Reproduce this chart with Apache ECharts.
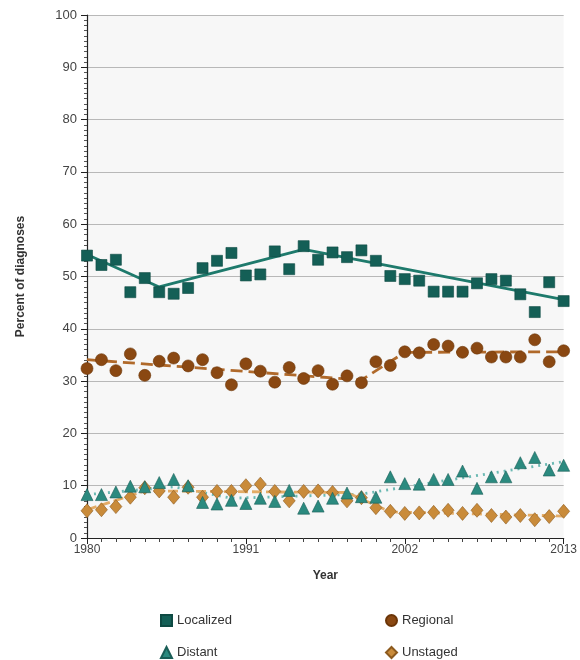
<!DOCTYPE html>
<html>
<head>
<meta charset="utf-8">
<script src="https://cdn.jsdelivr.net/npm/echarts@6/dist/echarts.min.js"></script>
<style>
  html, body { margin: 0; padding: 0; background: #ffffff; }
  #chart { width: 580px; height: 660px; }
</style>
</head>
<body>
<div id="chart"></div>
<script>
// Diagnosis years
const years = [1980,1981,1982,1983,1984,1985,1986,1987,1988,1989,1990,1991,1992,1993,1994,1995,1996,
  1997,1998,1999,2000,2001,2002,2003,2004,2005,2006,2007,2008,2009,2010,2011,2012,2013];

// Observed percent of diagnoses by stage
const localized = [54.0,52.2,53.2,47.0,49.7,47.0,46.7,47.8,51.6,53.0,54.5,50.2,50.4,54.8,51.4,55.8,53.2,
  54.6,53.7,55.0,53.0,50.1,49.5,49.2,47.1,47.1,47.1,48.7,49.5,49.2,46.6,43.2,48.9,45.3];
const regional = [32.4,34.1,32.0,35.2,31.1,33.8,34.4,32.9,34.1,31.6,29.3,33.3,31.9,29.8,32.6,30.5,32.0,
  29.4,31.0,29.7,33.7,33.0,35.6,35.4,37.0,36.7,35.5,36.3,34.6,34.6,34.6,37.9,33.7,35.8];
const distant = [8.3,8.3,8.8,9.9,9.8,10.6,11.2,10.0,6.8,6.5,7.2,6.6,7.6,7.0,9.1,5.7,6.1,
  7.6,8.6,7.9,7.8,11.7,10.4,10.3,11.2,11.2,12.8,9.5,11.7,11.7,14.4,15.4,13.0,13.9];
const unstaged = [5.2,5.4,6.0,7.8,9.6,9.0,7.8,9.7,7.8,8.9,8.9,10.0,10.3,8.9,7.1,8.9,9.0,
  8.7,7.1,7.7,5.8,5.1,4.7,4.8,4.9,5.3,4.7,5.3,4.3,4.0,4.3,3.5,4.1,5.1];

// Fitted joinpoint trends: [year, percent]
const localizedTrend = [[1980,54.2],[1985,48.0],[1995,55.2],[2013,45.6]];
const regionalTrend = [[1980,34.1],[1999,30.2],[2002,35.5],[2013,35.6]];
const distantTrend = [[1980,8.3],[1986,9.8],[1990,7.6],[1999,8.4],[2013,14.6]];
const unstagedTrend = [[1980,5.4],[1984,9.0],[1998,8.7],[2001,5.0],[2013,4.2]];

const yTicks = [0,10,20,30,40,50,60,70,80,90,100];
const xTicks = [1980,1991,2002,2013];

const COL = {
  loc: '#145f56', locLine: '#1e7a6c',
  reg: '#8a4812', regLine: '#b0692a',
  dis: '#2b8a7f', disLine: '#6bb9b3',
  uns: '#c98b3a', unsLine: '#e3ac66'
};

const pairs = (vals) => years.map((y, i) => [y, vals[i]]);

const chart = echarts.init(document.getElementById('chart'), null, { renderer: 'canvas' });

const font = 'Liberation Sans, Arial, sans-serif';

// One legend block per entry, laid out in two columns
const legendItem = (name, icon, left, top) => ({
  left: left, top: top, orient: 'horizontal',
  itemWidth: 11, itemHeight: 11, itemGap: 4,
  textStyle: { fontFamily: font, fontSize: 13, color: '#333' },
  data: [{ name: name, icon: icon }]
});

chart.setOption({
  animation: false,
  backgroundColor: '#ffffff',
  grid: {
    left: 87, right: 15, top: 15, bottom: 122,
    show: true, backgroundColor: '#f7f7f7', borderWidth: 0
  },
  xAxis: {
    type: 'value', min: 1980, max: 2013, interval: 11,
    name: 'Year', nameLocation: 'middle', nameGap: 32,
    nameTextStyle: { fontFamily: font, fontWeight: 'bold', fontSize: 12, color: '#333' },
    axisLine: { show: true, lineStyle: { color: '#222', width: 1.2 } },
    axisTick: { show: true, length: 6, lineStyle: { color: '#222' } },
    minorTick: { show: true, splitNumber: 11, length: 4, lineStyle: { color: '#444' } },
    axisLabel: {
      fontFamily: font, fontSize: 12, color: '#444', margin: 6,
      formatter: (v) => xTicks.includes(v) ? String(v) : ''
    },
    splitLine: { show: false }
  },
  yAxis: {
    type: 'value', min: 0, max: 100, interval: 10,
    name: 'Percent of diagnoses', nameLocation: 'middle', nameGap: 60, nameRotate: 90,
    nameTextStyle: { fontFamily: font, fontWeight: 'bold', fontSize: 12, color: '#333' },
    axisLine: { show: true, lineStyle: { color: '#222', width: 1.2 } },
    axisTick: { show: true, length: 6, lineStyle: { color: '#222' } },
    minorTick: { show: true, splitNumber: 10, length: 3, lineStyle: { color: '#555' } },
    axisLabel: {
      fontFamily: font, fontSize: 13, color: '#444', margin: 10,
      formatter: (v) => yTicks.includes(v) ? String(v) : ''
    },
    splitLine: { show: true, lineStyle: { color: '#b8b8b8', width: 1 } }
  },
  legend: [
    legendItem('Localized', 'rect', 155, 609),
    legendItem('Distant', 'triangle', 155, 641),
    legendItem('Regional', 'circle', 380, 609),
    legendItem('Unstaged', 'diamond', 380, 641)
  ],
  series: [
    {
      name: 'Localized trend', type: 'line', data: localizedTrend, symbol: 'none', z: 2,
      lineStyle: { color: COL.locLine, width: 2.8, type: 'solid' }
    },
    {
      name: 'Regional trend', type: 'line', data: regionalTrend, symbol: 'none', z: 2,
      lineStyle: { color: COL.regLine, width: 2.8, type: [12, 6] }
    },
    {
      name: 'Distant trend', type: 'line', data: distantTrend, symbol: 'none', z: 2,
      lineStyle: { color: COL.disLine, width: 2.8, type: [2, 5] }
    },
    {
      name: 'Unstaged trend', type: 'line', data: unstagedTrend, symbol: 'none', z: 2,
      lineStyle: { color: COL.unsLine, width: 2.8, type: [10, 4] }
    },
    {
      name: 'Localized', type: 'scatter', data: pairs(localized), symbol: 'rect', symbolSize: 11, z: 5,
      itemStyle: { color: COL.loc, borderColor: '#0e4a43', borderWidth: 0.6, opacity: 1 }
    },
    {
      name: 'Regional', type: 'scatter', data: pairs(regional), symbol: 'circle', symbolSize: 12, z: 5,
      itemStyle: { color: COL.reg, borderColor: '#6b3508', borderWidth: 0.6, opacity: 1 }
    },
    {
      name: 'Distant', type: 'scatter', data: pairs(distant), symbol: 'triangle', symbolSize: 12, z: 5,
      itemStyle: { color: COL.dis, borderColor: '#1a5e57', borderWidth: 0.6, opacity: 1 }
    },
    {
      name: 'Unstaged', type: 'scatter', data: pairs(unstaged), symbol: 'diamond', symbolSize: [12, 14], z: 4,
      itemStyle: { color: COL.uns, borderColor: '#8c5a1e', borderWidth: 0.6, opacity: 1 }
    }
  ]
});
</script>
</body>
</html>
